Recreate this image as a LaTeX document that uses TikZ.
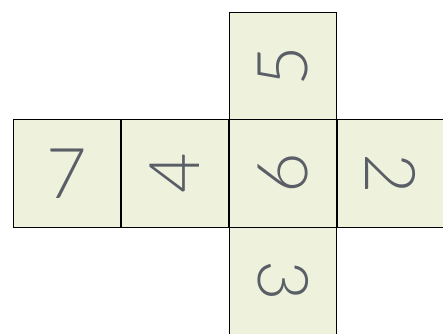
\documentclass[tikz,border=0pt]{standalone}
\usepackage{fontspec}
\setmainfont{Lato Light}
\usetikzlibrary{positioning}

\definecolor{facefill}{HTML}{EEF2DD}
\definecolor{digitgray}{HTML}{5A5E66}

\tikzset{
    face/.style={draw=black, line width=1.4pt, fill=facefill, minimum size=107.5pt,
        inner sep=0pt, outer sep=0pt, text=digitgray,
        font=\fontsize{70}{70}\selectfont}
}

\begin{document}
\begin{tikzpicture}[x=1pt, y=1pt]
    \useasboundingbox (0,0) rectangle (443,333);
    % cube net
    \node[face] (seven) at (67, 159.5) {7};
    \node[face, rotate=90] (four) at (175, 159.5) {4};
    \node[face, rotate=90] (six) at (283, 159.5) {6};
    \node[face, rotate=-90] (two) at (391, 159.5) {2};
    \node[face, rotate=90] (five) at (283, 267) {5};
    \node[face, rotate=-90] (three) at (283, 52) {3};
    \end{tikzpicture}
\end{document}
